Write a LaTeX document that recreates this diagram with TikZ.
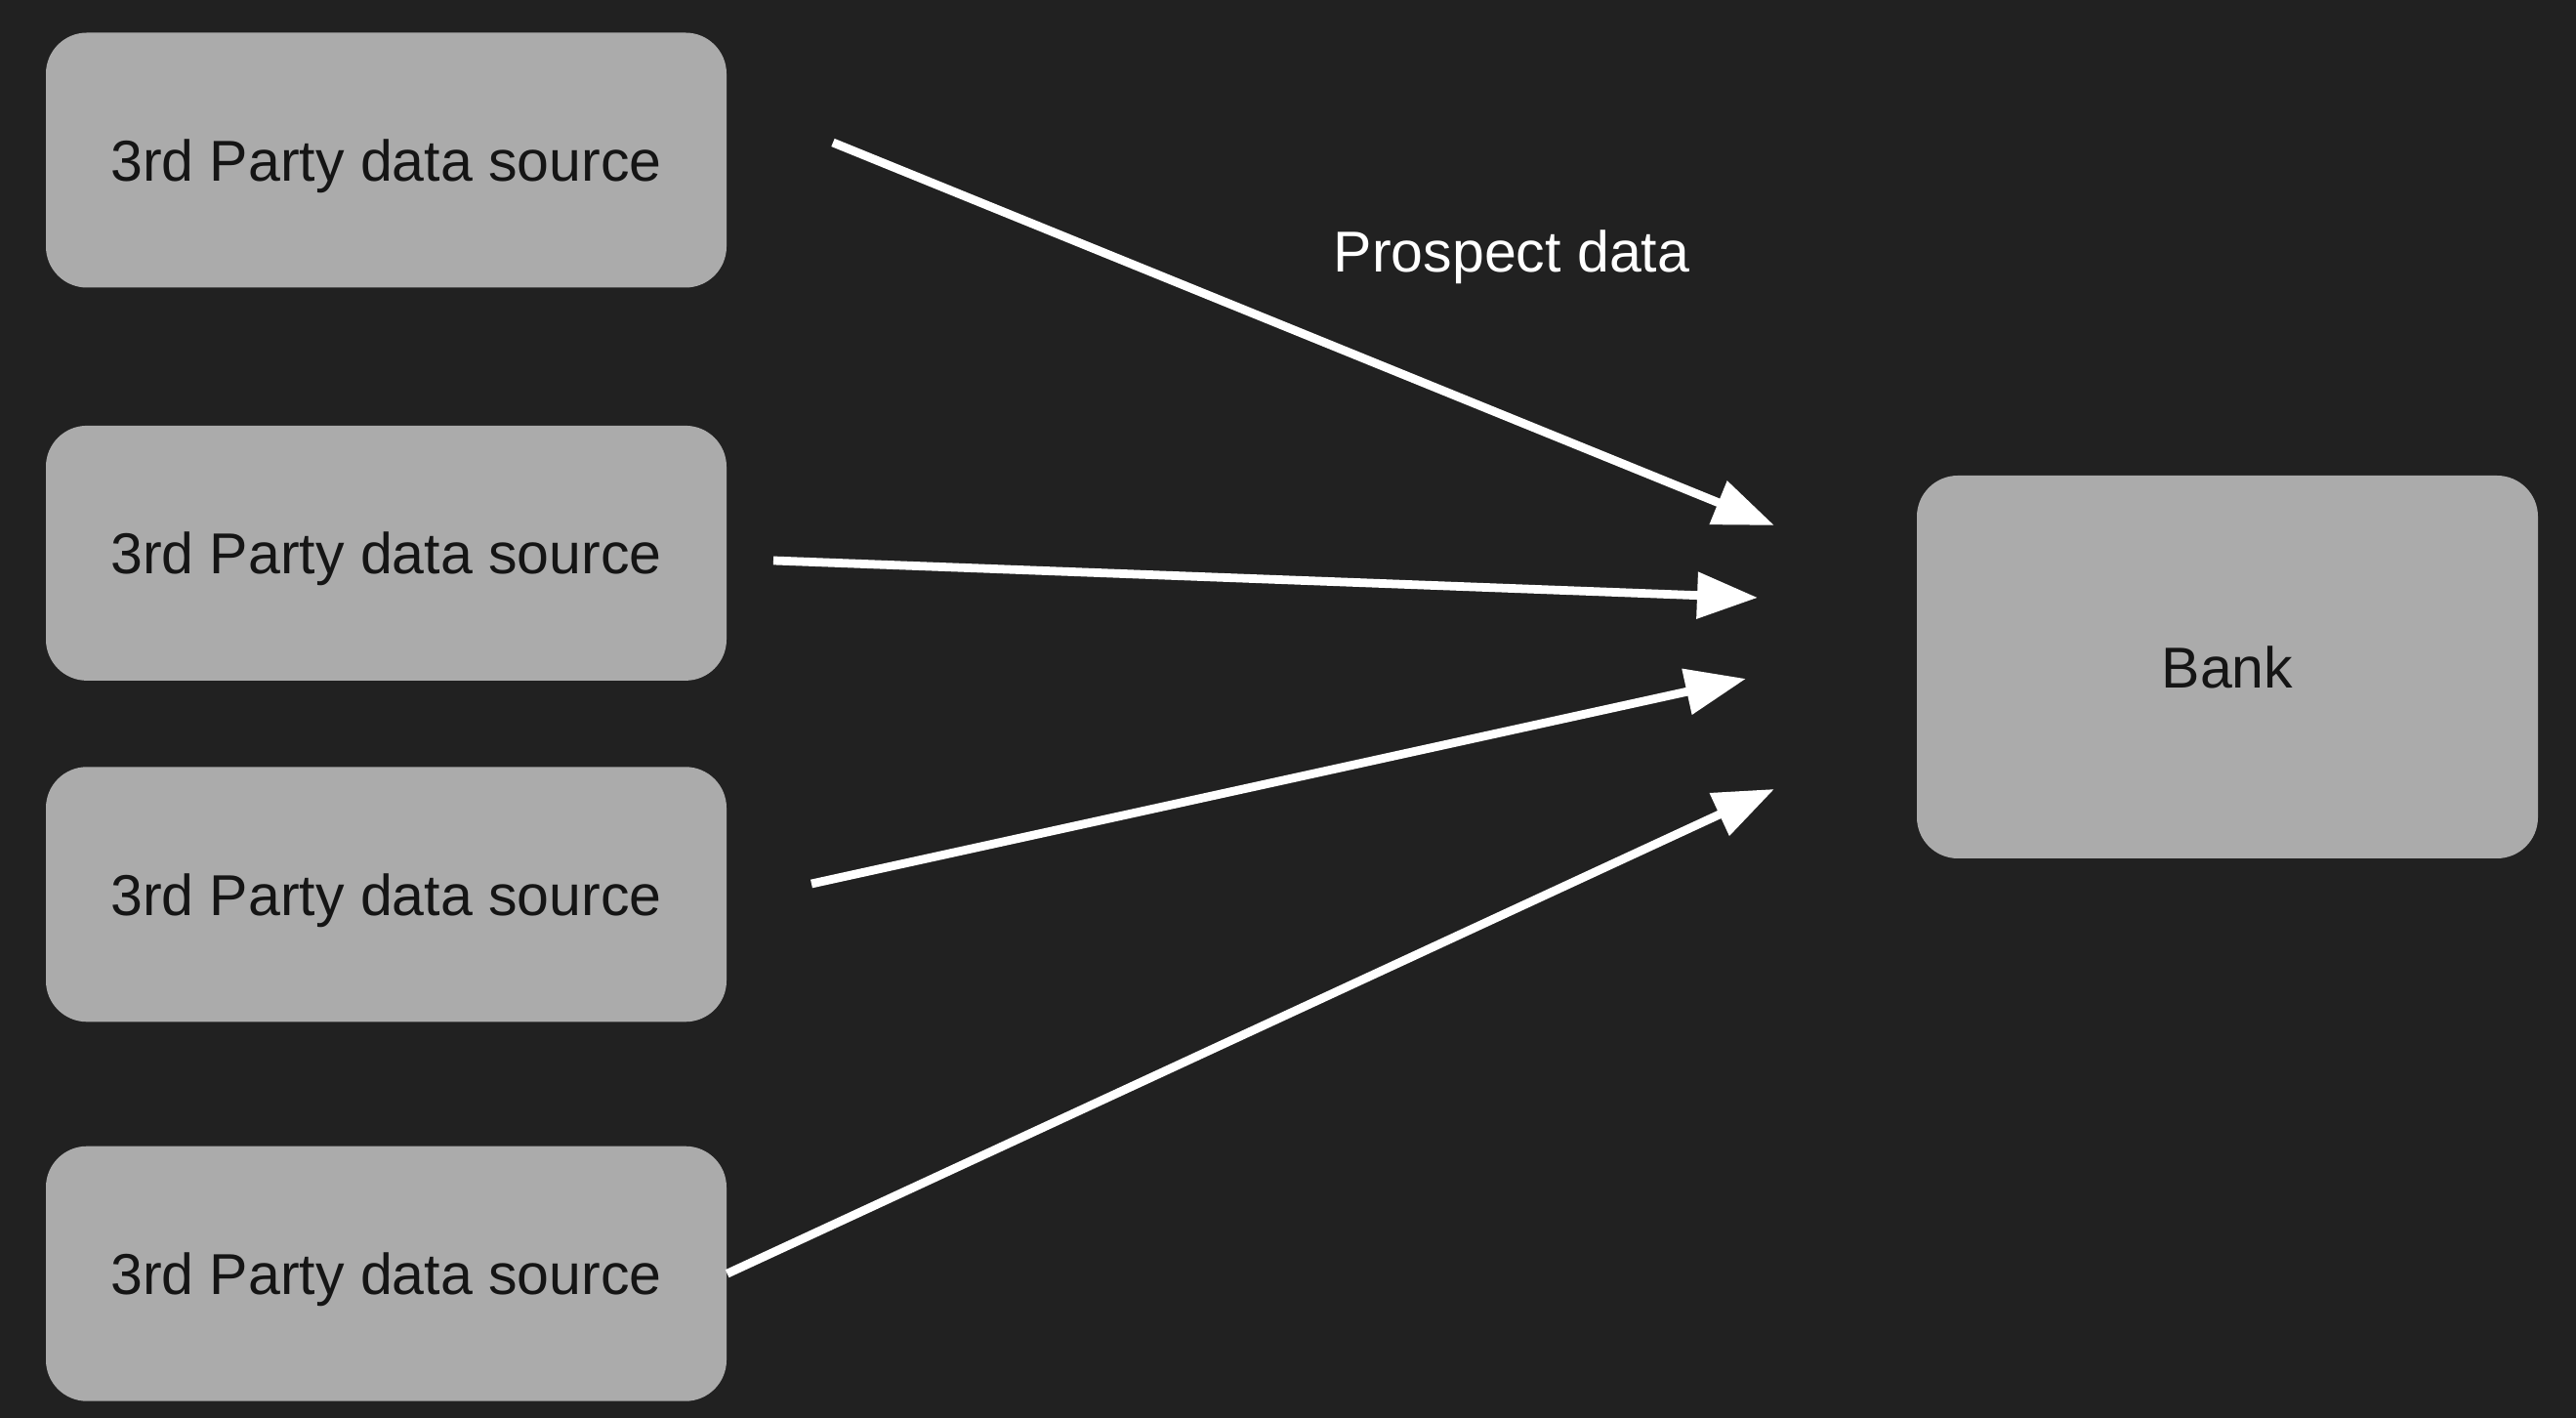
\documentclass[tikz,border=0pt]{standalone}
\usepackage{fontspec}
\setmainfont{Liberation Sans}
\usetikzlibrary{arrows.meta,positioning}
\definecolor{bgdark}{HTML}{212121}
\definecolor{boxgrey}{HTML}{ABABAB}
\definecolor{boxtext}{HTML}{151515}

\begin{document}
\begin{tikzpicture}[
    node distance=1.4cm,
    source/.style={rectangle, rounded corners=0.42cm, fill=boxgrey, text=boxtext, minimum width=6.97cm, minimum height=2.61cm, inner sep=0pt, text depth=0pt, font=\fontsize{16.8}{20}\selectfont},
    bankbox/.style={source, minimum width=6.36cm, minimum height=3.92cm},
    feed/.style={draw=white, line width=2.5pt, -{Triangle[length=6.2mm, width=4.6mm]}},
    label/.style={text=white, text depth=0pt, font=\fontsize{16.8}{20}\selectfont}
]
    % Background
    \fill[bgdark] (0,0) rectangle (26.38,14.52);
    \useasboundingbox (0,0) rectangle (26.38,14.52);

    % Data sources
    \node[source] (src1) at (3.955,12.88) {3rd Party data source};
    \node[source, below=1.40cm of src1] (src2) {3rd Party data source};
    \node[source, below=0.87cm of src2] (src3) {3rd Party data source};
    \node[source, below=1.26cm of src3] (src4) {3rd Party data source};

    % Bank
    \node[bankbox] (bank) at (22.81,7.69) {Bank};

    % Arrow ends
    \coordinate (out1) at (8.53,13.06);
    \coordinate (out2) at (7.92,8.78);
    \coordinate (out3) at (8.31,5.47);
    \coordinate (out4) at (src4.east);
    \coordinate (in1) at (18.17,9.14);
    \coordinate (in2) at (18.00,8.40);
    \coordinate (in3) at (17.88,7.57);
    \coordinate (in4) at (18.17,6.44);

    % Arrows
    \draw[feed] (out1) -- (in1);
    \draw[feed] (out2) -- (in2);
    \draw[feed] (out3) -- (in3);
    \draw[feed] (out4) -- (in4);

    % Label
    \node[label] (prospect) at (15.48,11.95) {Prospect data};
\end{tikzpicture}
\end{document}
